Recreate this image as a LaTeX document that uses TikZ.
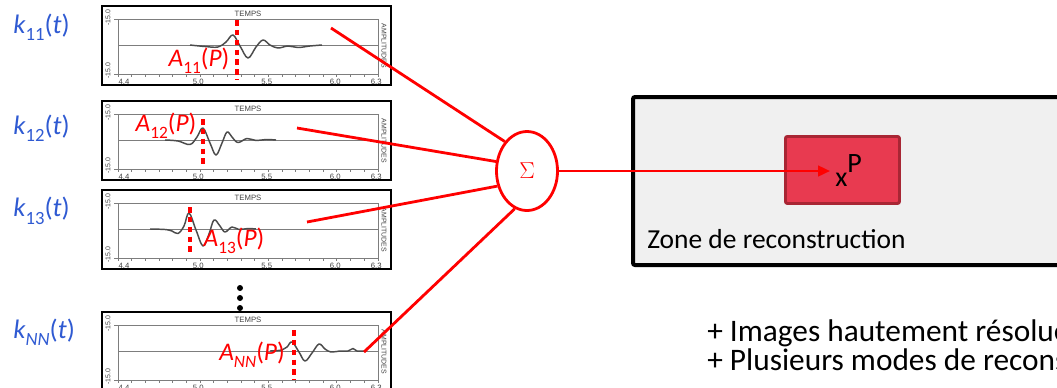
\documentclass[tikz,border=0pt]{standalone}
\usepackage{fontspec}
\setmainfont{Carlito}
\newfontfamily\axisfont{Liberation Sans}
\usetikzlibrary{arrows.meta,shapes.geometric}

\definecolor{kblue}{RGB}{47,90,210}
\definecolor{linkred}{RGB}{255,0,0}
\definecolor{zonegray}{RGB}{240,240,240}
\definecolor{ptfill}{RGB}{232,58,80}
\definecolor{ptedge}{RGB}{168,38,52}
\definecolor{tracegray}{RGB}{75,75,75}
\definecolor{axisgray}{RGB}{125,125,125}

% lowered subscript in text mode
\newcommand\lsub[2]{\raisebox{-0.28em}{\fontsize{#1}{#1}\selectfont #2}}

\tikzset{
  panelframe/.style={draw=black, line width=1.6pt},
  axisline/.style={draw=axisgray, line width=0.7pt},
  axislabel/.style={font=\axisfont\fontsize{5.8}{5.8}\selectfont, text=black!75, inner sep=0pt},
  sidelabel/.style={font=\axisfont\fontsize{5.2}{5.2}\selectfont, text=black!75, inner sep=0pt},
  trace/.style={draw=tracegray, line width=1.1pt, line join=round},
  marker/.style={draw=linkred, line width=2.6pt, dash pattern=on 4.2pt off 3.2pt},
  klabel/.style={text=kblue, font=\fontsize{20}{20}\selectfont, inner sep=0pt, anchor=west},
  alabel/.style={text=linkred, font=\fontsize{19}{19}\selectfont, inner sep=0pt},
  link/.style={draw=linkred, line width=2.1pt},
  sumnode/.style={ellipse, draw=linkred, line width=2.1pt, fill=white,
    minimum width={61*0.75pt}, minimum height={79*0.75pt}, inner sep=0pt,
    text=linkred, font=\fontsize{19}{19}\selectfont},
  zonebox/.style={draw=black, fill=zonegray, line width=3pt, rounded corners=1.5pt,
    anchor=north west, inner sep=0pt},
  ptbox/.style={draw=ptedge, fill=ptfill, line width=2.2pt, rounded corners=1.5pt,
    anchor=north west, inner sep=0pt},
  plaintext/.style={text=black, inner sep=0pt, anchor=base west},
  vdot/.style={circle, fill=black, inner sep=0pt, minimum size=4.5pt},
}

% one recorded trace panel: #1 name prefix, #2 top edge (px)
\newcommand\panel[2]{%
  \begin{scope}[shift={(0,#2)}]
    \draw[panelframe] (102,0) rectangle (391,79);
    \draw[axisline] (118,13) rectangle (378,68);
    \draw[axisline] (118,39) -- (378,39);
    \draw[axisline] (114,13) -- (118,13) (114,68) -- (118,68);
    \foreach \k in {0,...,19}
      \draw[axisline] ({118+\k*260/19},68) -- ++(0,3);
    \node[axislabel] (#1-temps) at (248,8) {TEMPS};
    \node[sidelabel, rotate=90] (#1-ymax) at (108,12) {-15.0};
    \node[sidelabel, rotate=90] (#1-ymin) at (108,65) {-15.0};
    \node[sidelabel, rotate=-90] (#1-amp) at (384,40) {AMPLITUDES};
    \node[axislabel] (#1-x0) at (124,75.5) {4.4};
    \foreach \v/\k in {5.0/6,5.5/11,6.0/16,6.3/19}
      \node[axislabel] (#1-x\k) at ({116+\k*13.7},75.5) {\v};
  \end{scope}}

\begin{document}
\begin{tikzpicture}[x=0.75pt, y=-0.75pt]
  \useasboundingbox (0,0) rectangle (1057,387);
  \clip (0,0) rectangle (1057,387);

  % ---- trace panels ----
  \panel{p1}{6}
  \panel{p2}{101}
  \panel{p3}{190}
  \panel{p4}{312}

  \draw[trace] plot[smooth, tension=0.6] coordinates {
    (190,45) (205,46.5) (218,47) (226,42) (233,35) (240,46) (248,58)
    (256,47) (263,40) (270,45) (278,48) (288,46) (298,47.5) (310,46) (322,45)};
  \draw[trace] plot[smooth, tension=0.6] coordinates {
    (165,140) (178,141) (190,144.5) (197,137) (203,128) (210,143) (216,155)
    (222,143) (227,132) (232,137) (238,142.5) (247,138.5) (256,140.5) (266,139.5) (276,140)};
  \draw[trace] plot[smooth, tension=0.6] coordinates {
    (150,229) (165,229.5) (172,231) (178,233.5) (184,226) (189,213) (196,230)
    (203,246) (209,234) (214,220) (220,226) (225,232) (232,227) (239,229.5) (248,228.5) (256,229)};
  \draw[trace] plot[smooth, tension=0.6] coordinates {
    (270,351) (282,350) (287,347) (292,342) (299,352) (305,361) (312,353)
    (319,344) (325,349) (331,352) (340,351) (348,351) (353,348.5) (357,351) (366,351)};

  % ---- picked amplitudes ----
  \draw[marker] (237,20) -- (237,80);
  \draw[marker] (203,119) -- (203,168);
  \draw[marker] (190,207) -- (190,256);
  \draw[marker] (294,330) -- (294,380);

  \node[alabel] (a11) at (199,61) {\textit{A}\lsub{13}{11}(\textit{P})};
  \node[alabel] (a12) at (166,126) {\textit{A}\lsub{13}{12}(\textit{P})};
  \node[alabel] (a13) at (234,241) {\textit{A}\lsub{13}{13}(\textit{P})};
  \node[alabel] (ann) at (252,355) {\textit{A}\lsub{13}{\textit{NN}}(\textit{P})};

  % ---- kernel names ----
  \node[klabel] (k11) at (13,27) {\textit{k}\lsub{14}{11}(\textit{t})};
  \node[klabel] (k12) at (13,128) {\textit{k}\lsub{14}{12}(\textit{t})};
  \node[klabel] (k13) at (13,211) {\textit{k}\lsub{14}{13}(\textit{t})};
  \node[klabel] (knn) at (13,332) {\textit{k}\lsub{14}{\textit{NN}}(\textit{t})};

  % ---- ellipsis between panels ----
  \node[vdot] (d1) at (240,288) {};
  \node[vdot] (d2) at (240,298) {};
  \node[vdot] (d3) at (240,308) {};

  % ---- summation ----
  \coordinate (s1) at (331,28);
  \coordinate (s2) at (297,128);
  \coordinate (s3) at (307,222);
  \coordinate (s4) at (364,352);
  \node[sumnode] (sum) at (527,171) {$\Sigma$};
  \draw[link] (s1) -- (sum.127);
  \draw[link] (s2) -- (sum.163);
  \draw[link] (s3) -- (sum.207);
  \draw[link] (s4) -- (sum.252);

  % ---- reconstruction zone ----
  \node[zonebox, minimum width={470*0.75pt}, minimum height={168*0.75pt}] (zone) at (631,95) {};
  \node[plaintext, font=\fontsize{20.6}{20.6}\selectfont] (zonelabel) at (647,248) {Zone de reconstruction};
  \node[ptbox, minimum width={114*0.75pt}, minimum height={67*0.75pt}] (pt) at (784,135) {};
  \node[plaintext, font=\fontsize{21}{21}\selectfont] (ptlabel) at (835,186) {x\raisebox{10.5pt}{P}};

  \coordinate (tip) at (830,171);
  \draw[link, line width=1.8pt, -{Triangle[length=9pt, width=8pt]}] (sum.east) -- (tip);

  % ---- remarks ----
  \node[plaintext, font=\fontsize{23.5}{23.5}\selectfont] (adv1) at (707,341) {+ Images hautement résolues};
  \node[plaintext, font=\fontsize{23.5}{23.5}\selectfont] (adv2) at (707,370) {+ Plusieurs modes de reconstruction};
\end{tikzpicture}
\end{document}
